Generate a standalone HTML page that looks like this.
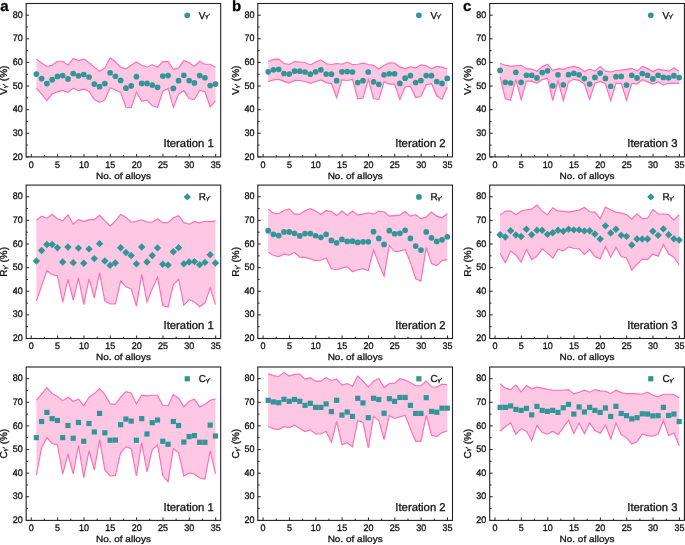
<!DOCTYPE html>
<html><head><meta charset="utf-8"><style>
html,body{margin:0;padding:0;background:#fff;}
text{stroke:#111;stroke-width:0.3px;text-rendering:geometricPrecision;}
body{width:685px;height:545px;overflow:hidden;}
svg{display:block;will-change:transform;filter:blur(0.35px);}
</style></head><body>
<svg width="685" height="545" viewBox="0 0 685 545" font-family='"Liberation Sans", sans-serif'>
<rect width="685" height="545" fill="#fff"/>
<polygon points="36.35,59.09 41.62,63.05 46.88,66.43 52.15,65.26 57.42,61.29 62.69,61.29 67.96,65.26 73.22,58.50 78.49,60.56 83.76,59.09 89.03,62.76 94.30,67.17 99.56,71.28 104.83,67.90 110.10,57.91 115.37,61.73 120.64,67.17 125.90,68.93 131.17,65.26 136.44,62.03 141.71,65.26 146.98,67.17 152.24,64.52 157.51,67.17 162.78,61.59 168.05,61.59 173.32,69.37 178.58,67.90 183.85,60.56 189.12,62.76 194.39,66.43 199.66,61.29 204.92,64.23 210.19,64.23 215.46,67.17 215.46,100.94 210.19,106.81 204.92,91.69 199.66,90.37 194.39,99.47 189.12,98.74 183.85,90.66 178.58,94.04 173.32,107.55 168.05,88.46 162.78,91.40 157.51,107.55 152.24,105.79 146.98,100.21 141.71,101.38 136.44,92.13 131.17,107.55 125.90,107.25 120.64,92.42 115.37,89.93 110.10,87.72 104.83,99.91 99.56,102.41 94.30,99.47 89.03,91.40 83.76,89.19 78.49,90.66 73.22,88.16 67.96,92.42 62.69,90.37 57.42,91.84 52.15,94.04 46.88,100.50 41.62,94.04 36.35,88.02" fill="#fec7e3"/>
<polyline points="36.35,59.09 41.62,63.05 46.88,66.43 52.15,65.26 57.42,61.29 62.69,61.29 67.96,65.26 73.22,58.50 78.49,60.56 83.76,59.09 89.03,62.76 94.30,67.17 99.56,71.28 104.83,67.90 110.10,57.91 115.37,61.73 120.64,67.17 125.90,68.93 131.17,65.26 136.44,62.03 141.71,65.26 146.98,67.17 152.24,64.52 157.51,67.17 162.78,61.59 168.05,61.59 173.32,69.37 178.58,67.90 183.85,60.56 189.12,62.76 194.39,66.43 199.66,61.29 204.92,64.23 210.19,64.23 215.46,67.17" fill="none" stroke="#ff6eb4" stroke-width="1.15"/>
<polyline points="36.35,88.02 41.62,94.04 46.88,100.50 52.15,94.04 57.42,91.84 62.69,90.37 67.96,92.42 73.22,88.16 78.49,90.66 83.76,89.19 89.03,91.40 94.30,99.47 99.56,102.41 104.83,99.91 110.10,87.72 115.37,89.93 120.64,92.42 125.90,107.25 131.17,107.55 136.44,92.13 141.71,101.38 146.98,100.21 152.24,105.79 157.51,107.55 162.78,91.40 168.05,88.46 173.32,107.55 178.58,94.04 183.85,90.66 189.12,98.74 194.39,99.47 199.66,90.37 204.92,91.69 210.19,106.81 215.46,100.94" fill="none" stroke="#ff6eb4" stroke-width="1.15"/>
<g fill="#319696">
<circle cx="36.35" cy="74.07" r="2.85"/>
<circle cx="41.62" cy="78.62" r="2.85"/>
<circle cx="46.88" cy="83.61" r="2.85"/>
<circle cx="52.15" cy="79.65" r="2.85"/>
<circle cx="57.42" cy="76.42" r="2.85"/>
<circle cx="62.69" cy="75.54" r="2.85"/>
<circle cx="67.96" cy="78.91" r="2.85"/>
<circle cx="73.22" cy="73.48" r="2.85"/>
<circle cx="78.49" cy="75.83" r="2.85"/>
<circle cx="83.76" cy="74.51" r="2.85"/>
<circle cx="89.03" cy="77.00" r="2.85"/>
<circle cx="94.30" cy="84.05" r="2.85"/>
<circle cx="99.56" cy="86.70" r="2.85"/>
<circle cx="104.83" cy="83.61" r="2.85"/>
<circle cx="110.10" cy="72.75" r="2.85"/>
<circle cx="115.37" cy="76.27" r="2.85"/>
<circle cx="120.64" cy="80.38" r="2.85"/>
<circle cx="125.90" cy="88.16" r="2.85"/>
<circle cx="131.17" cy="85.96" r="2.85"/>
<circle cx="136.44" cy="76.71" r="2.85"/>
<circle cx="141.71" cy="83.47" r="2.85"/>
<circle cx="146.98" cy="83.47" r="2.85"/>
<circle cx="152.24" cy="85.08" r="2.85"/>
<circle cx="157.51" cy="87.28" r="2.85"/>
<circle cx="162.78" cy="76.12" r="2.85"/>
<circle cx="168.05" cy="75.54" r="2.85"/>
<circle cx="173.32" cy="88.46" r="2.85"/>
<circle cx="178.58" cy="80.68" r="2.85"/>
<circle cx="183.85" cy="75.24" r="2.85"/>
<circle cx="189.12" cy="80.53" r="2.85"/>
<circle cx="194.39" cy="82.88" r="2.85"/>
<circle cx="199.66" cy="75.54" r="2.85"/>
<circle cx="204.92" cy="77.74" r="2.85"/>
<circle cx="210.19" cy="85.52" r="2.85"/>
<circle cx="215.46" cy="84.05" r="2.85"/>
</g>
<rect x="26.15" y="3.5" width="194.55" height="153.40" fill="none" stroke="#222" stroke-width="1.1"/>
<path d="M31.28 156.90v-3M57.62 156.90v-3M83.96 156.90v-3M110.30 156.90v-3M136.64 156.90v-3M162.98 156.90v-3M189.32 156.90v-3M215.66 156.90v-3M44.45 156.90v-1.8M70.79 156.90v-1.8M97.13 156.90v-1.8M123.47 156.90v-1.8M149.81 156.90v-1.8M176.15 156.90v-1.8M202.49 156.90v-1.8M26.15 156.90h3M26.15 133.28h3M26.15 109.66h3M26.15 86.04h3M26.15 62.42h3M26.15 38.80h3M26.15 15.18h3M26.15 145.09h1.8M26.15 121.47h1.8M26.15 97.85h1.8M26.15 74.23h1.8M26.15 50.61h1.8M26.15 26.99h1.8" stroke="#222" stroke-width="1" fill="none"/>
<g font-size="9" fill="#111" text-anchor="middle">
<text transform="translate(31.28,167.60) scale(1,1.06)">0</text>
<text transform="translate(57.62,167.60) scale(1,1.06)">5</text>
<text transform="translate(83.96,167.60) scale(1,1.06)">10</text>
<text transform="translate(110.30,167.60) scale(1,1.06)">15</text>
<text transform="translate(136.64,167.60) scale(1,1.06)">20</text>
<text transform="translate(162.98,167.60) scale(1,1.06)">25</text>
<text transform="translate(189.32,167.60) scale(1,1.06)">30</text>
<text transform="translate(215.66,167.60) scale(1,1.06)">35</text>
</g>
<g font-size="9" fill="#111" text-anchor="end">
<text transform="translate(22.75,159.50) scale(1,1.06)">20</text>
<text transform="translate(22.75,135.88) scale(1,1.06)">30</text>
<text transform="translate(22.75,112.26) scale(1,1.06)">40</text>
<text transform="translate(22.75,88.64) scale(1,1.06)">50</text>
<text transform="translate(22.75,65.02) scale(1,1.06)">60</text>
<text transform="translate(22.75,41.40) scale(1,1.06)">70</text>
<text transform="translate(22.75,17.78) scale(1,1.06)">80</text>
</g>
<text transform="translate(123.42,178.80) scale(1,0.9)" font-size="10" text-anchor="middle" fill="#111">No. of alloys</text>
<text transform="translate(7.35,80.20) rotate(-90)" font-size="10" text-anchor="middle" fill="#111">V<tspan font-size="5.6" dx="0.1" dy="-0.5">γ</tspan><tspan font-size="6" dx="0.2">′</tspan><tspan dy="0.5"> (%)</tspan></text>
<g fill="#319696"><circle cx="187.25" cy="15.30" r="2.85"/></g>
<text x="198.85" y="18.70" font-size="10" fill="#111">V<tspan font-size="5.6" dx="0.1" dy="-0.5">γ</tspan><tspan font-size="6" dx="0.2">′</tspan></text>
<text x="213.80" y="147.00" font-size="11.3" text-anchor="end" fill="#111">Iteration 1</text>
<text transform="translate(0.15,10.6)" font-size="15" font-weight="bold" fill="#000">a</text>
<polygon points="268.17,61.59 273.44,59.38 278.70,59.09 283.97,63.49 289.24,64.52 294.51,61.59 299.78,62.03 305.04,62.47 310.31,64.96 315.58,62.03 320.85,59.82 326.12,63.79 331.38,64.52 336.65,63.49 341.92,64.23 347.19,62.03 352.46,64.67 357.72,64.23 362.99,63.20 368.26,64.52 373.53,65.40 378.80,69.07 384.06,65.26 389.33,62.76 394.60,63.05 399.87,66.87 405.14,68.78 410.40,66.73 415.67,67.90 420.94,64.96 426.21,65.70 431.48,68.63 436.74,66.43 442.01,67.17 447.28,69.07 447.28,86.99 442.01,99.47 436.74,95.80 431.48,83.76 426.21,84.79 420.94,96.53 415.67,97.56 410.40,86.26 405.14,86.99 399.87,99.47 394.60,84.05 389.33,84.05 384.06,81.85 378.80,99.47 373.53,98.74 368.26,79.65 362.99,98.00 357.72,98.74 352.46,79.35 347.19,80.53 341.92,79.94 336.65,97.71 331.38,83.61 326.12,82.58 320.85,79.94 315.58,81.56 310.31,83.32 305.04,81.56 299.78,80.53 294.51,80.38 289.24,83.02 283.97,81.41 278.70,79.35 273.44,79.94 268.17,81.56" fill="#fec7e3"/>
<polyline points="268.17,61.59 273.44,59.38 278.70,59.09 283.97,63.49 289.24,64.52 294.51,61.59 299.78,62.03 305.04,62.47 310.31,64.96 315.58,62.03 320.85,59.82 326.12,63.79 331.38,64.52 336.65,63.49 341.92,64.23 347.19,62.03 352.46,64.67 357.72,64.23 362.99,63.20 368.26,64.52 373.53,65.40 378.80,69.07 384.06,65.26 389.33,62.76 394.60,63.05 399.87,66.87 405.14,68.78 410.40,66.73 415.67,67.90 420.94,64.96 426.21,65.70 431.48,68.63 436.74,66.43 442.01,67.17 447.28,69.07" fill="none" stroke="#ff6eb4" stroke-width="1.15"/>
<polyline points="268.17,81.56 273.44,79.94 278.70,79.35 283.97,81.41 289.24,83.02 294.51,80.38 299.78,80.53 305.04,81.56 310.31,83.32 315.58,81.56 320.85,79.94 326.12,82.58 331.38,83.61 336.65,97.71 341.92,79.94 347.19,80.53 352.46,79.35 357.72,98.74 362.99,98.00 368.26,79.65 373.53,98.74 378.80,99.47 384.06,81.85 389.33,84.05 394.60,84.05 399.87,99.47 405.14,86.99 410.40,86.26 415.67,97.56 420.94,96.53 426.21,84.79 431.48,83.76 436.74,95.80 442.01,99.47 447.28,86.99" fill="none" stroke="#ff6eb4" stroke-width="1.15"/>
<g fill="#319696">
<circle cx="268.17" cy="71.86" r="2.85"/>
<circle cx="273.44" cy="69.81" r="2.85"/>
<circle cx="278.70" cy="69.37" r="2.85"/>
<circle cx="283.97" cy="73.48" r="2.85"/>
<circle cx="289.24" cy="74.07" r="2.85"/>
<circle cx="294.51" cy="71.13" r="2.85"/>
<circle cx="299.78" cy="71.13" r="2.85"/>
<circle cx="305.04" cy="72.01" r="2.85"/>
<circle cx="310.31" cy="74.21" r="2.85"/>
<circle cx="315.58" cy="71.86" r="2.85"/>
<circle cx="320.85" cy="69.81" r="2.85"/>
<circle cx="326.12" cy="74.07" r="2.85"/>
<circle cx="331.38" cy="74.21" r="2.85"/>
<circle cx="336.65" cy="80.68" r="2.85"/>
<circle cx="341.92" cy="71.86" r="2.85"/>
<circle cx="347.19" cy="71.57" r="2.85"/>
<circle cx="352.46" cy="72.01" r="2.85"/>
<circle cx="357.72" cy="82.58" r="2.85"/>
<circle cx="362.99" cy="80.68" r="2.85"/>
<circle cx="368.26" cy="72.01" r="2.85"/>
<circle cx="373.53" cy="81.85" r="2.85"/>
<circle cx="378.80" cy="84.35" r="2.85"/>
<circle cx="384.06" cy="74.80" r="2.85"/>
<circle cx="389.33" cy="73.77" r="2.85"/>
<circle cx="394.60" cy="73.77" r="2.85"/>
<circle cx="399.87" cy="83.47" r="2.85"/>
<circle cx="405.14" cy="78.18" r="2.85"/>
<circle cx="410.40" cy="75.68" r="2.85"/>
<circle cx="415.67" cy="82.58" r="2.85"/>
<circle cx="420.94" cy="80.53" r="2.85"/>
<circle cx="426.21" cy="75.54" r="2.85"/>
<circle cx="431.48" cy="75.68" r="2.85"/>
<circle cx="436.74" cy="81.56" r="2.85"/>
<circle cx="442.01" cy="83.47" r="2.85"/>
<circle cx="447.28" cy="78.47" r="2.85"/>
</g>
<rect x="257.8" y="3.5" width="194.70" height="153.40" fill="none" stroke="#222" stroke-width="1.1"/>
<path d="M263.10 156.90v-3M289.44 156.90v-3M315.78 156.90v-3M342.12 156.90v-3M368.46 156.90v-3M394.80 156.90v-3M421.14 156.90v-3M447.48 156.90v-3M276.27 156.90v-1.8M302.61 156.90v-1.8M328.95 156.90v-1.8M355.29 156.90v-1.8M381.63 156.90v-1.8M407.97 156.90v-1.8M434.31 156.90v-1.8M257.80 156.90h3M257.80 133.28h3M257.80 109.66h3M257.80 86.04h3M257.80 62.42h3M257.80 38.80h3M257.80 15.18h3M257.80 145.09h1.8M257.80 121.47h1.8M257.80 97.85h1.8M257.80 74.23h1.8M257.80 50.61h1.8M257.80 26.99h1.8" stroke="#222" stroke-width="1" fill="none"/>
<g font-size="9" fill="#111" text-anchor="middle">
<text transform="translate(263.10,167.60) scale(1,1.06)">0</text>
<text transform="translate(289.44,167.60) scale(1,1.06)">5</text>
<text transform="translate(315.78,167.60) scale(1,1.06)">10</text>
<text transform="translate(342.12,167.60) scale(1,1.06)">15</text>
<text transform="translate(368.46,167.60) scale(1,1.06)">20</text>
<text transform="translate(394.80,167.60) scale(1,1.06)">25</text>
<text transform="translate(421.14,167.60) scale(1,1.06)">30</text>
<text transform="translate(447.48,167.60) scale(1,1.06)">35</text>
</g>
<g font-size="9" fill="#111" text-anchor="end">
<text transform="translate(254.40,159.50) scale(1,1.06)">20</text>
<text transform="translate(254.40,135.88) scale(1,1.06)">30</text>
<text transform="translate(254.40,112.26) scale(1,1.06)">40</text>
<text transform="translate(254.40,88.64) scale(1,1.06)">50</text>
<text transform="translate(254.40,65.02) scale(1,1.06)">60</text>
<text transform="translate(254.40,41.40) scale(1,1.06)">70</text>
<text transform="translate(254.40,17.78) scale(1,1.06)">80</text>
</g>
<text transform="translate(355.15,178.80) scale(1,0.9)" font-size="10" text-anchor="middle" fill="#111">No. of alloys</text>
<text transform="translate(239.00,80.20) rotate(-90)" font-size="10" text-anchor="middle" fill="#111">V<tspan font-size="5.6" dx="0.1" dy="-0.5">γ</tspan><tspan font-size="6" dx="0.2">′</tspan><tspan dy="0.5"> (%)</tspan></text>
<g fill="#319696"><circle cx="418.90" cy="15.30" r="2.85"/></g>
<text x="430.50" y="18.70" font-size="10" fill="#111">V<tspan font-size="5.6" dx="0.1" dy="-0.5">γ</tspan><tspan font-size="6" dx="0.2">′</tspan></text>
<text x="445.60" y="147.00" font-size="11.3" text-anchor="end" fill="#111">Iteration 2</text>
<text transform="translate(232.00,10.6)" font-size="15" font-weight="bold" fill="#000">b</text>
<polygon points="500.07,63.20 505.34,65.26 510.60,66.14 515.87,65.70 521.14,65.26 526.41,68.63 531.68,69.07 536.94,71.28 542.21,66.73 547.48,64.23 552.75,70.54 558.02,68.63 563.28,69.37 568.55,67.46 573.82,66.43 579.09,67.90 584.36,71.57 589.62,69.07 594.89,71.13 600.16,66.43 605.43,71.28 610.70,72.01 615.96,70.54 621.23,70.10 626.50,69.37 631.77,68.34 637.04,71.13 642.30,66.43 647.57,68.63 652.84,71.57 658.11,69.07 663.38,70.10 668.64,71.13 673.91,67.90 679.18,71.13 679.18,83.32 673.91,83.32 668.64,83.32 663.38,85.23 658.11,81.85 652.84,84.05 647.57,81.85 642.30,79.65 637.04,84.05 631.77,83.32 626.50,100.21 621.23,83.32 615.96,83.32 610.70,100.94 605.43,83.76 600.16,81.41 594.89,83.32 589.62,99.47 584.36,84.05 579.09,80.38 573.82,79.35 568.55,81.85 563.28,100.50 558.02,80.82 552.75,100.50 547.48,78.18 542.21,79.65 536.94,83.32 531.68,81.12 526.41,81.12 521.14,99.47 515.87,79.35 510.60,100.21 505.34,98.74 500.07,77.15" fill="#fec7e3"/>
<polyline points="500.07,63.20 505.34,65.26 510.60,66.14 515.87,65.70 521.14,65.26 526.41,68.63 531.68,69.07 536.94,71.28 542.21,66.73 547.48,64.23 552.75,70.54 558.02,68.63 563.28,69.37 568.55,67.46 573.82,66.43 579.09,67.90 584.36,71.57 589.62,69.07 594.89,71.13 600.16,66.43 605.43,71.28 610.70,72.01 615.96,70.54 621.23,70.10 626.50,69.37 631.77,68.34 637.04,71.13 642.30,66.43 647.57,68.63 652.84,71.57 658.11,69.07 663.38,70.10 668.64,71.13 673.91,67.90 679.18,71.13" fill="none" stroke="#ff6eb4" stroke-width="1.15"/>
<polyline points="500.07,77.15 505.34,98.74 510.60,100.21 515.87,79.35 521.14,99.47 526.41,81.12 531.68,81.12 536.94,83.32 542.21,79.65 547.48,78.18 552.75,100.50 558.02,80.82 563.28,100.50 568.55,81.85 573.82,79.35 579.09,80.38 584.36,84.05 589.62,99.47 594.89,83.32 600.16,81.41 605.43,83.76 610.70,100.94 615.96,83.32 621.23,83.32 626.50,100.21 631.77,83.32 637.04,84.05 642.30,79.65 647.57,81.85 652.84,84.05 658.11,81.85 663.38,85.23 668.64,83.32 673.91,83.32 679.18,83.32" fill="none" stroke="#ff6eb4" stroke-width="1.15"/>
<g fill="#319696">
<circle cx="500.07" cy="70.40" r="2.85"/>
<circle cx="505.34" cy="82.29" r="2.85"/>
<circle cx="510.60" cy="83.02" r="2.85"/>
<circle cx="515.87" cy="72.31" r="2.85"/>
<circle cx="521.14" cy="82.29" r="2.85"/>
<circle cx="526.41" cy="75.24" r="2.85"/>
<circle cx="531.68" cy="75.24" r="2.85"/>
<circle cx="536.94" cy="77.89" r="2.85"/>
<circle cx="542.21" cy="72.60" r="2.85"/>
<circle cx="547.48" cy="70.84" r="2.85"/>
<circle cx="552.75" cy="85.81" r="2.85"/>
<circle cx="558.02" cy="74.80" r="2.85"/>
<circle cx="563.28" cy="84.79" r="2.85"/>
<circle cx="568.55" cy="74.65" r="2.85"/>
<circle cx="573.82" cy="73.33" r="2.85"/>
<circle cx="579.09" cy="74.80" r="2.85"/>
<circle cx="584.36" cy="78.62" r="2.85"/>
<circle cx="589.62" cy="84.05" r="2.85"/>
<circle cx="594.89" cy="77.44" r="2.85"/>
<circle cx="600.16" cy="73.04" r="2.85"/>
<circle cx="605.43" cy="78.47" r="2.85"/>
<circle cx="610.70" cy="86.26" r="2.85"/>
<circle cx="615.96" cy="76.71" r="2.85"/>
<circle cx="621.23" cy="76.42" r="2.85"/>
<circle cx="626.50" cy="85.08" r="2.85"/>
<circle cx="631.77" cy="75.24" r="2.85"/>
<circle cx="637.04" cy="77.89" r="2.85"/>
<circle cx="642.30" cy="73.48" r="2.85"/>
<circle cx="647.57" cy="75.24" r="2.85"/>
<circle cx="652.84" cy="78.91" r="2.85"/>
<circle cx="658.11" cy="75.24" r="2.85"/>
<circle cx="663.38" cy="77.44" r="2.85"/>
<circle cx="668.64" cy="77.74" r="2.85"/>
<circle cx="673.91" cy="75.68" r="2.85"/>
<circle cx="679.18" cy="77.59" r="2.85"/>
</g>
<rect x="489.7" y="3.5" width="194.70" height="153.40" fill="none" stroke="#222" stroke-width="1.1"/>
<path d="M495.00 156.90v-3M521.34 156.90v-3M547.68 156.90v-3M574.02 156.90v-3M600.36 156.90v-3M626.70 156.90v-3M653.04 156.90v-3M679.38 156.90v-3M508.17 156.90v-1.8M534.51 156.90v-1.8M560.85 156.90v-1.8M587.19 156.90v-1.8M613.53 156.90v-1.8M639.87 156.90v-1.8M666.21 156.90v-1.8M489.70 156.90h3M489.70 133.28h3M489.70 109.66h3M489.70 86.04h3M489.70 62.42h3M489.70 38.80h3M489.70 15.18h3M489.70 145.09h1.8M489.70 121.47h1.8M489.70 97.85h1.8M489.70 74.23h1.8M489.70 50.61h1.8M489.70 26.99h1.8" stroke="#222" stroke-width="1" fill="none"/>
<g font-size="9" fill="#111" text-anchor="middle">
<text transform="translate(495.00,167.60) scale(1,1.06)">0</text>
<text transform="translate(521.34,167.60) scale(1,1.06)">5</text>
<text transform="translate(547.68,167.60) scale(1,1.06)">10</text>
<text transform="translate(574.02,167.60) scale(1,1.06)">15</text>
<text transform="translate(600.36,167.60) scale(1,1.06)">20</text>
<text transform="translate(626.70,167.60) scale(1,1.06)">25</text>
<text transform="translate(653.04,167.60) scale(1,1.06)">30</text>
<text transform="translate(679.38,167.60) scale(1,1.06)">35</text>
</g>
<g font-size="9" fill="#111" text-anchor="end">
<text transform="translate(486.30,159.50) scale(1,1.06)">20</text>
<text transform="translate(486.30,135.88) scale(1,1.06)">30</text>
<text transform="translate(486.30,112.26) scale(1,1.06)">40</text>
<text transform="translate(486.30,88.64) scale(1,1.06)">50</text>
<text transform="translate(486.30,65.02) scale(1,1.06)">60</text>
<text transform="translate(486.30,41.40) scale(1,1.06)">70</text>
<text transform="translate(486.30,17.78) scale(1,1.06)">80</text>
</g>
<text transform="translate(587.05,178.80) scale(1,0.9)" font-size="10" text-anchor="middle" fill="#111">No. of alloys</text>
<text transform="translate(470.90,80.20) rotate(-90)" font-size="10" text-anchor="middle" fill="#111">V<tspan font-size="5.6" dx="0.1" dy="-0.5">γ</tspan><tspan font-size="6" dx="0.2">′</tspan><tspan dy="0.5"> (%)</tspan></text>
<g fill="#319696"><circle cx="650.80" cy="15.30" r="2.85"/></g>
<text x="662.40" y="18.70" font-size="10" fill="#111">V<tspan font-size="5.6" dx="0.1" dy="-0.5">γ</tspan><tspan font-size="6" dx="0.2">′</tspan></text>
<text x="677.50" y="147.00" font-size="11.3" text-anchor="end" fill="#111">Iteration 3</text>
<text transform="translate(463.10,10.6)" font-size="15" font-weight="bold" fill="#000">c</text>
<polygon points="36.35,220.20 41.62,216.16 46.88,218.18 52.15,214.55 57.42,218.79 62.69,220.81 67.96,214.75 73.22,224.24 78.49,219.39 83.76,221.62 89.03,219.60 94.30,219.60 99.56,215.35 104.83,220.61 110.10,225.86 115.37,220.81 120.64,214.55 125.90,217.17 131.17,222.22 136.44,221.41 141.71,219.80 146.98,221.82 152.24,222.22 157.51,218.99 162.78,222.63 168.05,222.63 173.32,217.78 178.58,215.76 183.85,222.63 189.12,224.24 194.39,221.62 199.66,222.83 204.92,221.21 210.19,221.62 215.46,220.81 215.46,304.65 210.19,287.88 204.92,303.03 199.66,306.67 194.39,302.02 189.12,299.60 183.85,305.05 178.58,279.39 173.32,284.85 168.05,307.07 162.78,305.45 157.51,277.17 152.24,288.89 146.98,302.02 141.71,274.34 136.44,306.06 131.17,288.89 125.90,286.87 120.64,280.81 115.37,304.04 110.10,304.04 104.83,301.01 99.56,272.73 94.30,297.98 89.03,278.79 83.76,304.65 78.49,277.78 73.22,300.00 67.96,279.39 62.69,302.02 57.42,275.76 52.15,274.75 46.88,270.71 41.62,285.86 36.35,301.01" fill="#fec7e3"/>
<polyline points="36.35,220.20 41.62,216.16 46.88,218.18 52.15,214.55 57.42,218.79 62.69,220.81 67.96,214.75 73.22,224.24 78.49,219.39 83.76,221.62 89.03,219.60 94.30,219.60 99.56,215.35 104.83,220.61 110.10,225.86 115.37,220.81 120.64,214.55 125.90,217.17 131.17,222.22 136.44,221.41 141.71,219.80 146.98,221.82 152.24,222.22 157.51,218.99 162.78,222.63 168.05,222.63 173.32,217.78 178.58,215.76 183.85,222.63 189.12,224.24 194.39,221.62 199.66,222.83 204.92,221.21 210.19,221.62 215.46,220.81" fill="none" stroke="#ff6eb4" stroke-width="1.15"/>
<polyline points="36.35,301.01 41.62,285.86 46.88,270.71 52.15,274.75 57.42,275.76 62.69,302.02 67.96,279.39 73.22,300.00 78.49,277.78 83.76,304.65 89.03,278.79 94.30,297.98 99.56,272.73 104.83,301.01 110.10,304.04 115.37,304.04 120.64,280.81 125.90,286.87 131.17,288.89 136.44,306.06 141.71,274.34 146.98,302.02 152.24,288.89 157.51,277.17 162.78,305.45 168.05,307.07 173.32,284.85 178.58,279.39 183.85,305.05 189.12,299.60 194.39,302.02 199.66,306.67 204.92,303.03 210.19,287.88 215.46,304.65" fill="none" stroke="#ff6eb4" stroke-width="1.15"/>
<g fill="#319696">
<path d="M36.35 257.31L40.05 261.01L36.35 264.71L32.65 261.01Z"/>
<path d="M41.62 246.81L45.32 250.51L41.62 254.21L37.92 250.51Z"/>
<path d="M46.88 240.74L50.58 244.44L46.88 248.14L43.18 244.44Z"/>
<path d="M52.15 240.74L55.85 244.44L52.15 248.14L48.45 244.44Z"/>
<path d="M57.42 243.98L61.12 247.68L57.42 251.38L53.72 247.68Z"/>
<path d="M62.69 258.32L66.39 262.02L62.69 265.72L58.99 262.02Z"/>
<path d="M67.96 243.37L71.66 247.07L67.96 250.77L64.26 247.07Z"/>
<path d="M73.22 258.93L76.92 262.63L73.22 266.33L69.52 262.63Z"/>
<path d="M78.49 244.38L82.19 248.08L78.49 251.78L74.79 248.08Z"/>
<path d="M83.76 259.53L87.46 263.23L83.76 266.93L80.06 263.23Z"/>
<path d="M89.03 245.19L92.73 248.89L89.03 252.59L85.33 248.89Z"/>
<path d="M94.30 254.89L98.00 258.59L94.30 262.29L90.60 258.59Z"/>
<path d="M99.56 239.94L103.26 243.64L99.56 247.34L95.86 243.64Z"/>
<path d="M104.83 257.31L108.53 261.01L104.83 264.71L101.13 261.01Z"/>
<path d="M110.10 261.55L113.80 265.25L110.10 268.95L106.40 265.25Z"/>
<path d="M115.37 259.33L119.07 263.03L115.37 266.73L111.67 263.03Z"/>
<path d="M120.64 243.98L124.34 247.68L120.64 251.38L116.94 247.68Z"/>
<path d="M125.90 248.83L129.60 252.53L125.90 256.23L122.20 252.53Z"/>
<path d="M131.17 251.86L134.87 255.56L131.17 259.26L127.47 255.56Z"/>
<path d="M136.44 260.14L140.14 263.84L136.44 267.54L132.74 263.84Z"/>
<path d="M141.71 243.37L145.41 247.07L141.71 250.77L138.01 247.07Z"/>
<path d="M146.98 258.32L150.68 262.02L146.98 265.72L143.28 262.02Z"/>
<path d="M152.24 251.86L155.94 255.56L152.24 259.26L148.54 255.56Z"/>
<path d="M157.51 244.18L161.21 247.88L157.51 251.58L153.81 247.88Z"/>
<path d="M162.78 260.54L166.48 264.24L162.78 267.94L159.08 264.24Z"/>
<path d="M168.05 261.35L171.75 265.05L168.05 268.75L164.35 265.05Z"/>
<path d="M173.32 248.02L177.02 251.72L173.32 255.42L169.62 251.72Z"/>
<path d="M178.58 243.98L182.28 247.68L178.58 251.38L174.88 247.68Z"/>
<path d="M183.85 260.14L187.55 263.84L183.85 267.54L180.15 263.84Z"/>
<path d="M189.12 258.32L192.82 262.02L189.12 265.72L185.42 262.02Z"/>
<path d="M194.39 257.92L198.09 261.62L194.39 265.32L190.69 261.62Z"/>
<path d="M199.66 260.95L203.36 264.65L199.66 268.35L195.96 264.65Z"/>
<path d="M204.92 258.72L208.62 262.42L204.92 266.12L201.22 262.42Z"/>
<path d="M210.19 251.05L213.89 254.75L210.19 258.45L206.49 254.75Z"/>
<path d="M215.46 259.33L219.16 263.03L215.46 266.73L211.76 263.03Z"/>
</g>
<rect x="26.15" y="185.1" width="194.55" height="153.40" fill="none" stroke="#222" stroke-width="1.1"/>
<path d="M31.28 338.50v-3M57.62 338.50v-3M83.96 338.50v-3M110.30 338.50v-3M136.64 338.50v-3M162.98 338.50v-3M189.32 338.50v-3M215.66 338.50v-3M44.45 338.50v-1.8M70.79 338.50v-1.8M97.13 338.50v-1.8M123.47 338.50v-1.8M149.81 338.50v-1.8M176.15 338.50v-1.8M202.49 338.50v-1.8M26.15 338.50h3M26.15 314.88h3M26.15 291.26h3M26.15 267.64h3M26.15 244.02h3M26.15 220.40h3M26.15 196.78h3M26.15 326.69h1.8M26.15 303.07h1.8M26.15 279.45h1.8M26.15 255.83h1.8M26.15 232.21h1.8M26.15 208.59h1.8" stroke="#222" stroke-width="1" fill="none"/>
<g font-size="9" fill="#111" text-anchor="middle">
<text transform="translate(31.28,349.20) scale(1,1.06)">0</text>
<text transform="translate(57.62,349.20) scale(1,1.06)">5</text>
<text transform="translate(83.96,349.20) scale(1,1.06)">10</text>
<text transform="translate(110.30,349.20) scale(1,1.06)">15</text>
<text transform="translate(136.64,349.20) scale(1,1.06)">20</text>
<text transform="translate(162.98,349.20) scale(1,1.06)">25</text>
<text transform="translate(189.32,349.20) scale(1,1.06)">30</text>
<text transform="translate(215.66,349.20) scale(1,1.06)">35</text>
</g>
<g font-size="9" fill="#111" text-anchor="end">
<text transform="translate(22.75,341.10) scale(1,1.06)">20</text>
<text transform="translate(22.75,317.48) scale(1,1.06)">30</text>
<text transform="translate(22.75,293.86) scale(1,1.06)">40</text>
<text transform="translate(22.75,270.24) scale(1,1.06)">50</text>
<text transform="translate(22.75,246.62) scale(1,1.06)">60</text>
<text transform="translate(22.75,223.00) scale(1,1.06)">70</text>
<text transform="translate(22.75,199.38) scale(1,1.06)">80</text>
</g>
<text transform="translate(123.42,360.40) scale(1,0.9)" font-size="10" text-anchor="middle" fill="#111">No. of alloys</text>
<text transform="translate(7.35,261.80) rotate(-90)" font-size="10" text-anchor="middle" fill="#111">R<tspan font-size="5.6" dx="0.1" dy="-0.5">γ</tspan><tspan font-size="6" dx="0.2">′</tspan><tspan dy="0.5"> (%)</tspan></text>
<g fill="#319696"><path d="M187.25 193.20L190.95 196.90L187.25 200.60L183.55 196.90Z"/></g>
<text x="198.85" y="200.30" font-size="10" fill="#111">R<tspan font-size="5.6" dx="0.1" dy="-0.5">γ</tspan><tspan font-size="6" dx="0.2">′</tspan></text>
<text x="213.80" y="328.60" font-size="11.3" text-anchor="end" fill="#111">Iteration 1</text>
<polygon points="268.17,209.09 273.44,213.13 278.70,213.74 283.97,210.51 289.24,208.89 294.51,214.14 299.78,214.14 305.04,210.71 310.31,208.69 315.58,211.11 320.85,214.55 326.12,210.71 331.38,211.52 336.65,215.56 341.92,211.11 347.19,215.56 352.46,211.11 357.72,215.15 362.99,214.14 368.26,212.73 373.53,214.14 378.80,211.11 384.06,211.72 389.33,216.16 394.60,215.56 399.87,215.15 405.14,211.52 410.40,216.16 415.67,214.55 420.94,218.59 426.21,217.17 431.48,212.12 436.74,216.16 442.01,217.78 447.28,213.74 447.28,259.60 442.01,260.61 436.74,265.66 431.48,263.64 426.21,247.47 420.94,281.21 415.67,278.79 410.40,262.63 405.14,249.49 399.87,251.11 394.60,251.52 389.33,245.45 384.06,276.16 378.80,263.64 373.53,250.10 368.26,270.71 362.99,268.69 357.72,269.70 352.46,271.72 347.19,266.67 341.92,268.08 336.65,269.70 331.38,268.69 326.12,257.98 320.85,260.20 315.58,260.61 310.31,258.99 305.04,257.37 299.78,257.17 294.51,252.53 289.24,255.15 283.97,254.14 278.70,256.57 273.44,255.56 268.17,252.12" fill="#fec7e3"/>
<polyline points="268.17,209.09 273.44,213.13 278.70,213.74 283.97,210.51 289.24,208.89 294.51,214.14 299.78,214.14 305.04,210.71 310.31,208.69 315.58,211.11 320.85,214.55 326.12,210.71 331.38,211.52 336.65,215.56 341.92,211.11 347.19,215.56 352.46,211.11 357.72,215.15 362.99,214.14 368.26,212.73 373.53,214.14 378.80,211.11 384.06,211.72 389.33,216.16 394.60,215.56 399.87,215.15 405.14,211.52 410.40,216.16 415.67,214.55 420.94,218.59 426.21,217.17 431.48,212.12 436.74,216.16 442.01,217.78 447.28,213.74" fill="none" stroke="#ff6eb4" stroke-width="1.15"/>
<polyline points="268.17,252.12 273.44,255.56 278.70,256.57 283.97,254.14 289.24,255.15 294.51,252.53 299.78,257.17 305.04,257.37 310.31,258.99 315.58,260.61 320.85,260.20 326.12,257.98 331.38,268.69 336.65,269.70 341.92,268.08 347.19,266.67 352.46,271.72 357.72,269.70 362.99,268.69 368.26,270.71 373.53,250.10 378.80,263.64 384.06,276.16 389.33,245.45 394.60,251.52 399.87,251.11 405.14,249.49 410.40,262.63 415.67,278.79 420.94,281.21 426.21,247.47 431.48,263.64 436.74,265.66 442.01,260.61 447.28,259.60" fill="none" stroke="#ff6eb4" stroke-width="1.15"/>
<g fill="#319696">
<circle cx="268.17" cy="230.71" r="2.85"/>
<circle cx="273.44" cy="234.34" r="2.85"/>
<circle cx="278.70" cy="235.56" r="2.85"/>
<circle cx="283.97" cy="231.92" r="2.85"/>
<circle cx="289.24" cy="231.92" r="2.85"/>
<circle cx="294.51" cy="233.33" r="2.85"/>
<circle cx="299.78" cy="235.96" r="2.85"/>
<circle cx="305.04" cy="233.54" r="2.85"/>
<circle cx="310.31" cy="233.54" r="2.85"/>
<circle cx="315.58" cy="235.76" r="2.85"/>
<circle cx="320.85" cy="237.37" r="2.85"/>
<circle cx="326.12" cy="234.34" r="2.85"/>
<circle cx="331.38" cy="240.40" r="2.85"/>
<circle cx="336.65" cy="242.83" r="2.85"/>
<circle cx="341.92" cy="239.39" r="2.85"/>
<circle cx="347.19" cy="241.41" r="2.85"/>
<circle cx="352.46" cy="241.21" r="2.85"/>
<circle cx="357.72" cy="242.42" r="2.85"/>
<circle cx="362.99" cy="241.82" r="2.85"/>
<circle cx="368.26" cy="241.82" r="2.85"/>
<circle cx="373.53" cy="231.72" r="2.85"/>
<circle cx="378.80" cy="238.38" r="2.85"/>
<circle cx="384.06" cy="244.44" r="2.85"/>
<circle cx="389.33" cy="230.71" r="2.85"/>
<circle cx="394.60" cy="233.74" r="2.85"/>
<circle cx="399.87" cy="233.33" r="2.85"/>
<circle cx="405.14" cy="230.30" r="2.85"/>
<circle cx="410.40" cy="238.38" r="2.85"/>
<circle cx="415.67" cy="246.06" r="2.85"/>
<circle cx="420.94" cy="250.10" r="2.85"/>
<circle cx="426.21" cy="231.92" r="2.85"/>
<circle cx="431.48" cy="237.78" r="2.85"/>
<circle cx="436.74" cy="241.41" r="2.85"/>
<circle cx="442.01" cy="239.80" r="2.85"/>
<circle cx="447.28" cy="236.77" r="2.85"/>
</g>
<rect x="257.8" y="185.1" width="194.70" height="153.40" fill="none" stroke="#222" stroke-width="1.1"/>
<path d="M263.10 338.50v-3M289.44 338.50v-3M315.78 338.50v-3M342.12 338.50v-3M368.46 338.50v-3M394.80 338.50v-3M421.14 338.50v-3M447.48 338.50v-3M276.27 338.50v-1.8M302.61 338.50v-1.8M328.95 338.50v-1.8M355.29 338.50v-1.8M381.63 338.50v-1.8M407.97 338.50v-1.8M434.31 338.50v-1.8M257.80 338.50h3M257.80 314.88h3M257.80 291.26h3M257.80 267.64h3M257.80 244.02h3M257.80 220.40h3M257.80 196.78h3M257.80 326.69h1.8M257.80 303.07h1.8M257.80 279.45h1.8M257.80 255.83h1.8M257.80 232.21h1.8M257.80 208.59h1.8" stroke="#222" stroke-width="1" fill="none"/>
<g font-size="9" fill="#111" text-anchor="middle">
<text transform="translate(263.10,349.20) scale(1,1.06)">0</text>
<text transform="translate(289.44,349.20) scale(1,1.06)">5</text>
<text transform="translate(315.78,349.20) scale(1,1.06)">10</text>
<text transform="translate(342.12,349.20) scale(1,1.06)">15</text>
<text transform="translate(368.46,349.20) scale(1,1.06)">20</text>
<text transform="translate(394.80,349.20) scale(1,1.06)">25</text>
<text transform="translate(421.14,349.20) scale(1,1.06)">30</text>
<text transform="translate(447.48,349.20) scale(1,1.06)">35</text>
</g>
<g font-size="9" fill="#111" text-anchor="end">
<text transform="translate(254.40,341.10) scale(1,1.06)">20</text>
<text transform="translate(254.40,317.48) scale(1,1.06)">30</text>
<text transform="translate(254.40,293.86) scale(1,1.06)">40</text>
<text transform="translate(254.40,270.24) scale(1,1.06)">50</text>
<text transform="translate(254.40,246.62) scale(1,1.06)">60</text>
<text transform="translate(254.40,223.00) scale(1,1.06)">70</text>
<text transform="translate(254.40,199.38) scale(1,1.06)">80</text>
</g>
<text transform="translate(355.15,360.40) scale(1,0.9)" font-size="10" text-anchor="middle" fill="#111">No. of alloys</text>
<text transform="translate(239.00,261.80) rotate(-90)" font-size="10" text-anchor="middle" fill="#111">R<tspan font-size="5.6" dx="0.1" dy="-0.5">γ</tspan><tspan font-size="6" dx="0.2">′</tspan><tspan dy="0.5"> (%)</tspan></text>
<g fill="#319696"><circle cx="418.90" cy="196.90" r="2.85"/></g>
<text x="430.50" y="200.30" font-size="10" fill="#111">R<tspan font-size="5.6" dx="0.1" dy="-0.5">γ</tspan><tspan font-size="6" dx="0.2">′</tspan></text>
<text x="445.60" y="328.60" font-size="11.3" text-anchor="end" fill="#111">Iteration 2</text>
<polygon points="500.07,215.15 505.34,211.11 510.60,211.11 515.87,214.75 521.14,211.11 526.41,209.70 531.68,209.09 536.94,205.05 542.21,211.11 547.48,214.75 552.75,207.68 558.02,211.11 563.28,211.11 568.55,212.12 573.82,211.11 579.09,210.10 584.36,207.47 589.62,211.72 594.89,212.12 600.16,218.59 605.43,207.07 610.70,210.10 615.96,212.12 621.23,213.13 626.50,214.55 631.77,219.19 637.04,213.74 642.30,218.59 647.57,218.18 652.84,209.49 658.11,213.74 663.38,214.14 668.64,214.55 673.91,220.20 679.18,214.75 679.18,265.05 673.91,257.17 668.64,254.14 663.38,244.44 658.11,256.16 652.84,254.14 647.57,259.60 642.30,259.19 637.04,264.24 631.77,270.30 626.50,257.98 621.23,256.57 615.96,247.47 610.70,256.97 605.43,246.46 600.16,258.99 594.89,256.57 589.62,249.49 584.36,254.55 579.09,248.89 573.82,248.48 568.55,246.87 563.28,250.91 558.02,249.09 552.75,258.18 547.48,253.13 542.21,248.89 536.94,256.16 531.68,259.60 526.41,249.49 521.14,262.02 515.87,254.95 510.60,251.11 505.34,262.63 500.07,253.54" fill="#fec7e3"/>
<polyline points="500.07,215.15 505.34,211.11 510.60,211.11 515.87,214.75 521.14,211.11 526.41,209.70 531.68,209.09 536.94,205.05 542.21,211.11 547.48,214.75 552.75,207.68 558.02,211.11 563.28,211.11 568.55,212.12 573.82,211.11 579.09,210.10 584.36,207.47 589.62,211.72 594.89,212.12 600.16,218.59 605.43,207.07 610.70,210.10 615.96,212.12 621.23,213.13 626.50,214.55 631.77,219.19 637.04,213.74 642.30,218.59 647.57,218.18 652.84,209.49 658.11,213.74 663.38,214.14 668.64,214.55 673.91,220.20 679.18,214.75" fill="none" stroke="#ff6eb4" stroke-width="1.15"/>
<polyline points="500.07,253.54 505.34,262.63 510.60,251.11 515.87,254.95 521.14,262.02 526.41,249.49 531.68,259.60 536.94,256.16 542.21,248.89 547.48,253.13 552.75,258.18 558.02,249.09 563.28,250.91 568.55,246.87 573.82,248.48 579.09,248.89 584.36,254.55 589.62,249.49 594.89,256.57 600.16,258.99 605.43,246.46 610.70,256.97 615.96,247.47 621.23,256.57 626.50,257.98 631.77,270.30 637.04,264.24 642.30,259.19 647.57,259.60 652.84,254.14 658.11,256.16 663.38,244.44 668.64,254.14 673.91,257.17 679.18,265.05" fill="none" stroke="#ff6eb4" stroke-width="1.15"/>
<g fill="#319696">
<path d="M500.07 231.05L503.77 234.75L500.07 238.45L496.37 234.75Z"/>
<path d="M505.34 233.27L509.04 236.97L505.34 240.67L501.64 236.97Z"/>
<path d="M510.60 227.01L514.30 230.71L510.60 234.41L506.90 230.71Z"/>
<path d="M515.87 231.25L519.57 234.95L515.87 238.65L512.17 234.95Z"/>
<path d="M521.14 232.87L524.84 236.57L521.14 240.27L517.44 236.57Z"/>
<path d="M526.41 225.59L530.11 229.29L526.41 232.99L522.71 229.29Z"/>
<path d="M531.68 231.05L535.38 234.75L531.68 238.45L527.98 234.75Z"/>
<path d="M536.94 226.60L540.64 230.30L536.94 234.00L533.24 230.30Z"/>
<path d="M542.21 226.60L545.91 230.30L542.21 234.00L538.51 230.30Z"/>
<path d="M547.48 230.64L551.18 234.34L547.48 238.04L543.78 234.34Z"/>
<path d="M552.75 229.03L556.45 232.73L552.75 236.43L549.05 232.73Z"/>
<path d="M558.02 226.60L561.72 230.30L558.02 234.00L554.32 230.30Z"/>
<path d="M563.28 227.61L566.98 231.31L563.28 235.01L559.58 231.31Z"/>
<path d="M568.55 225.59L572.25 229.29L568.55 232.99L564.85 229.29Z"/>
<path d="M573.82 226.20L577.52 229.90L573.82 233.60L570.12 229.90Z"/>
<path d="M579.09 226.20L582.79 229.90L579.09 233.60L575.39 229.90Z"/>
<path d="M584.36 227.21L588.06 230.91L584.36 234.61L580.66 230.91Z"/>
<path d="M589.62 227.01L593.32 230.71L589.62 234.41L585.92 230.71Z"/>
<path d="M594.89 230.24L598.59 233.94L594.89 237.64L591.19 233.94Z"/>
<path d="M600.16 235.29L603.86 238.99L600.16 242.69L596.46 238.99Z"/>
<path d="M605.43 222.16L609.13 225.86L605.43 229.56L601.73 225.86Z"/>
<path d="M610.70 229.23L614.40 232.93L610.70 236.63L607.00 232.93Z"/>
<path d="M615.96 225.59L619.66 229.29L615.96 232.99L612.26 229.29Z"/>
<path d="M621.23 231.65L624.93 235.35L621.23 239.05L617.53 235.35Z"/>
<path d="M626.50 232.66L630.20 236.36L626.50 240.06L622.80 236.36Z"/>
<path d="M631.77 241.35L635.47 245.05L631.77 248.75L628.07 245.05Z"/>
<path d="M637.04 235.29L640.74 238.99L637.04 242.69L633.34 238.99Z"/>
<path d="M642.30 235.29L646.00 238.99L642.30 242.69L638.60 238.99Z"/>
<path d="M647.57 235.29L651.27 238.99L647.57 242.69L643.87 238.99Z"/>
<path d="M652.84 227.61L656.54 231.31L652.84 235.01L649.14 231.31Z"/>
<path d="M658.11 231.65L661.81 235.35L658.11 239.05L654.41 235.35Z"/>
<path d="M663.38 225.19L667.08 228.89L663.38 232.59L659.68 228.89Z"/>
<path d="M668.64 231.05L672.34 234.75L668.64 238.45L664.94 234.75Z"/>
<path d="M673.91 235.09L677.61 238.79L673.91 242.49L670.21 238.79Z"/>
<path d="M679.18 236.30L682.88 240.00L679.18 243.70L675.48 240.00Z"/>
</g>
<rect x="489.7" y="185.1" width="194.70" height="153.40" fill="none" stroke="#222" stroke-width="1.1"/>
<path d="M495.00 338.50v-3M521.34 338.50v-3M547.68 338.50v-3M574.02 338.50v-3M600.36 338.50v-3M626.70 338.50v-3M653.04 338.50v-3M679.38 338.50v-3M508.17 338.50v-1.8M534.51 338.50v-1.8M560.85 338.50v-1.8M587.19 338.50v-1.8M613.53 338.50v-1.8M639.87 338.50v-1.8M666.21 338.50v-1.8M489.70 338.50h3M489.70 314.88h3M489.70 291.26h3M489.70 267.64h3M489.70 244.02h3M489.70 220.40h3M489.70 196.78h3M489.70 326.69h1.8M489.70 303.07h1.8M489.70 279.45h1.8M489.70 255.83h1.8M489.70 232.21h1.8M489.70 208.59h1.8" stroke="#222" stroke-width="1" fill="none"/>
<g font-size="9" fill="#111" text-anchor="middle">
<text transform="translate(495.00,349.20) scale(1,1.06)">0</text>
<text transform="translate(521.34,349.20) scale(1,1.06)">5</text>
<text transform="translate(547.68,349.20) scale(1,1.06)">10</text>
<text transform="translate(574.02,349.20) scale(1,1.06)">15</text>
<text transform="translate(600.36,349.20) scale(1,1.06)">20</text>
<text transform="translate(626.70,349.20) scale(1,1.06)">25</text>
<text transform="translate(653.04,349.20) scale(1,1.06)">30</text>
<text transform="translate(679.38,349.20) scale(1,1.06)">35</text>
</g>
<g font-size="9" fill="#111" text-anchor="end">
<text transform="translate(486.30,341.10) scale(1,1.06)">20</text>
<text transform="translate(486.30,317.48) scale(1,1.06)">30</text>
<text transform="translate(486.30,293.86) scale(1,1.06)">40</text>
<text transform="translate(486.30,270.24) scale(1,1.06)">50</text>
<text transform="translate(486.30,246.62) scale(1,1.06)">60</text>
<text transform="translate(486.30,223.00) scale(1,1.06)">70</text>
<text transform="translate(486.30,199.38) scale(1,1.06)">80</text>
</g>
<text transform="translate(587.05,360.40) scale(1,0.9)" font-size="10" text-anchor="middle" fill="#111">No. of alloys</text>
<text transform="translate(470.90,261.80) rotate(-90)" font-size="10" text-anchor="middle" fill="#111">R<tspan font-size="5.6" dx="0.1" dy="-0.5">γ</tspan><tspan font-size="6" dx="0.2">′</tspan><tspan dy="0.5"> (%)</tspan></text>
<g fill="#319696"><path d="M650.80 193.20L654.50 196.90L650.80 200.60L647.10 196.90Z"/></g>
<text x="662.40" y="200.30" font-size="10" fill="#111">R<tspan font-size="5.6" dx="0.1" dy="-0.5">γ</tspan><tspan font-size="6" dx="0.2">′</tspan></text>
<text x="677.50" y="328.60" font-size="11.3" text-anchor="end" fill="#111">Iteration 3</text>
<polygon points="36.35,400.25 41.62,394.19 46.88,387.53 52.15,393.59 57.42,396.41 62.69,400.66 67.96,397.22 73.22,401.26 78.49,399.24 83.76,405.71 89.03,397.22 94.30,393.59 99.56,388.54 104.83,394.60 110.10,403.89 115.37,404.29 120.64,397.22 125.90,391.57 131.17,392.98 136.44,403.89 141.71,395.20 146.98,395.81 152.24,395.20 157.51,395.20 162.78,405.30 168.05,405.71 173.32,394.60 178.58,398.23 183.85,406.72 189.12,401.26 194.39,399.24 199.66,406.92 204.92,404.29 210.19,400.25 215.46,398.84 215.46,473.99 210.19,450.76 204.92,479.04 199.66,478.03 194.39,473.99 189.12,472.98 183.85,476.01 178.58,452.78 173.32,448.74 168.05,481.67 162.78,475.61 157.51,444.70 152.24,449.75 146.98,471.97 141.71,442.68 136.44,476.01 131.17,448.74 125.90,446.72 120.64,452.78 115.37,475.40 110.10,476.01 104.83,469.95 99.56,439.65 94.30,469.95 89.03,450.76 83.76,477.63 78.49,445.71 73.22,473.99 67.96,454.39 62.69,473.99 57.42,444.70 52.15,443.69 46.88,437.63 41.62,447.73 36.35,475.00" fill="#fec7e3"/>
<polyline points="36.35,400.25 41.62,394.19 46.88,387.53 52.15,393.59 57.42,396.41 62.69,400.66 67.96,397.22 73.22,401.26 78.49,399.24 83.76,405.71 89.03,397.22 94.30,393.59 99.56,388.54 104.83,394.60 110.10,403.89 115.37,404.29 120.64,397.22 125.90,391.57 131.17,392.98 136.44,403.89 141.71,395.20 146.98,395.81 152.24,395.20 157.51,395.20 162.78,405.30 168.05,405.71 173.32,394.60 178.58,398.23 183.85,406.72 189.12,401.26 194.39,399.24 199.66,406.92 204.92,404.29 210.19,400.25 215.46,398.84" fill="none" stroke="#ff6eb4" stroke-width="1.15"/>
<polyline points="36.35,475.00 41.62,447.73 46.88,437.63 52.15,443.69 57.42,444.70 62.69,473.99 67.96,454.39 73.22,473.99 78.49,445.71 83.76,477.63 89.03,450.76 94.30,469.95 99.56,439.65 104.83,469.95 110.10,476.01 115.37,475.40 120.64,452.78 125.90,446.72 131.17,448.74 136.44,476.01 141.71,442.68 146.98,471.97 152.24,449.75 157.51,444.70 162.78,475.61 168.05,481.67 173.32,448.74 178.58,452.78 183.85,476.01 189.12,472.98 194.39,473.99 199.66,478.03 204.92,479.04 210.19,450.76 215.46,473.99" fill="none" stroke="#ff6eb4" stroke-width="1.15"/>
<g fill="#319696">
<rect x="33.75" y="435.03" width="5.2" height="5.2"/>
<rect x="39.02" y="418.86" width="5.2" height="5.2"/>
<rect x="44.28" y="409.77" width="5.2" height="5.2"/>
<rect x="49.55" y="416.04" width="5.2" height="5.2"/>
<rect x="54.82" y="417.85" width="5.2" height="5.2"/>
<rect x="60.09" y="435.03" width="5.2" height="5.2"/>
<rect x="65.36" y="422.91" width="5.2" height="5.2"/>
<rect x="70.62" y="435.63" width="5.2" height="5.2"/>
<rect x="75.89" y="419.87" width="5.2" height="5.2"/>
<rect x="81.16" y="438.66" width="5.2" height="5.2"/>
<rect x="86.43" y="420.88" width="5.2" height="5.2"/>
<rect x="91.70" y="429.37" width="5.2" height="5.2"/>
<rect x="96.96" y="410.78" width="5.2" height="5.2"/>
<rect x="102.23" y="430.18" width="5.2" height="5.2"/>
<rect x="107.50" y="437.65" width="5.2" height="5.2"/>
<rect x="112.77" y="437.45" width="5.2" height="5.2"/>
<rect x="118.04" y="422.10" width="5.2" height="5.2"/>
<rect x="123.30" y="416.44" width="5.2" height="5.2"/>
<rect x="128.57" y="418.46" width="5.2" height="5.2"/>
<rect x="133.84" y="437.65" width="5.2" height="5.2"/>
<rect x="139.11" y="416.04" width="5.2" height="5.2"/>
<rect x="144.38" y="431.39" width="5.2" height="5.2"/>
<rect x="149.64" y="420.08" width="5.2" height="5.2"/>
<rect x="154.91" y="417.45" width="5.2" height="5.2"/>
<rect x="160.18" y="438.66" width="5.2" height="5.2"/>
<rect x="165.45" y="441.69" width="5.2" height="5.2"/>
<rect x="170.72" y="418.86" width="5.2" height="5.2"/>
<rect x="175.98" y="422.91" width="5.2" height="5.2"/>
<rect x="181.25" y="439.47" width="5.2" height="5.2"/>
<rect x="186.52" y="434.02" width="5.2" height="5.2"/>
<rect x="191.79" y="433.01" width="5.2" height="5.2"/>
<rect x="197.06" y="439.67" width="5.2" height="5.2"/>
<rect x="202.32" y="439.67" width="5.2" height="5.2"/>
<rect x="207.59" y="422.50" width="5.2" height="5.2"/>
<rect x="212.86" y="433.41" width="5.2" height="5.2"/>
</g>
<rect x="26.15" y="367.0" width="194.55" height="153.40" fill="none" stroke="#222" stroke-width="1.1"/>
<path d="M31.28 520.40v-3M57.62 520.40v-3M83.96 520.40v-3M110.30 520.40v-3M136.64 520.40v-3M162.98 520.40v-3M189.32 520.40v-3M215.66 520.40v-3M44.45 520.40v-1.8M70.79 520.40v-1.8M97.13 520.40v-1.8M123.47 520.40v-1.8M149.81 520.40v-1.8M176.15 520.40v-1.8M202.49 520.40v-1.8M26.15 520.40h3M26.15 496.78h3M26.15 473.16h3M26.15 449.54h3M26.15 425.92h3M26.15 402.30h3M26.15 378.68h3M26.15 508.59h1.8M26.15 484.97h1.8M26.15 461.35h1.8M26.15 437.73h1.8M26.15 414.11h1.8M26.15 390.49h1.8" stroke="#222" stroke-width="1" fill="none"/>
<g font-size="9" fill="#111" text-anchor="middle">
<text transform="translate(31.28,531.10) scale(1,1.06)">0</text>
<text transform="translate(57.62,531.10) scale(1,1.06)">5</text>
<text transform="translate(83.96,531.10) scale(1,1.06)">10</text>
<text transform="translate(110.30,531.10) scale(1,1.06)">15</text>
<text transform="translate(136.64,531.10) scale(1,1.06)">20</text>
<text transform="translate(162.98,531.10) scale(1,1.06)">25</text>
<text transform="translate(189.32,531.10) scale(1,1.06)">30</text>
<text transform="translate(215.66,531.10) scale(1,1.06)">35</text>
</g>
<g font-size="9" fill="#111" text-anchor="end">
<text transform="translate(22.75,523.00) scale(1,1.06)">20</text>
<text transform="translate(22.75,499.38) scale(1,1.06)">30</text>
<text transform="translate(22.75,475.76) scale(1,1.06)">40</text>
<text transform="translate(22.75,452.14) scale(1,1.06)">50</text>
<text transform="translate(22.75,428.52) scale(1,1.06)">60</text>
<text transform="translate(22.75,404.90) scale(1,1.06)">70</text>
<text transform="translate(22.75,381.28) scale(1,1.06)">80</text>
</g>
<text transform="translate(123.42,542.30) scale(1,0.9)" font-size="10" text-anchor="middle" fill="#111">No. of alloys</text>
<text transform="translate(7.35,443.70) rotate(-90)" font-size="10" text-anchor="middle" fill="#111">C<tspan font-size="5.6" dx="0.1" dy="-0.5">γ</tspan><tspan font-size="6" dx="0.2">′</tspan><tspan dy="0.5"> (%)</tspan></text>
<g fill="#319696"><rect x="184.65" y="376.20" width="5.2" height="5.2"/></g>
<text x="198.85" y="382.20" font-size="10" fill="#111">C<tspan font-size="5.6" dx="0.1" dy="-0.5">γ</tspan><tspan font-size="6" dx="0.2">′</tspan></text>
<text x="213.80" y="510.50" font-size="11.3" text-anchor="end" fill="#111">Iteration 1</text>
<polygon points="268.17,373.64 273.44,375.66 278.70,376.46 283.97,372.63 289.24,376.06 294.51,374.44 299.78,374.04 305.04,379.09 310.31,377.68 315.58,381.11 320.85,381.11 326.12,377.68 331.38,380.51 336.65,379.09 341.92,385.15 347.19,383.54 352.46,386.16 357.72,376.06 362.99,381.11 368.26,387.17 373.53,381.11 378.80,378.48 384.06,387.58 389.33,383.54 394.60,383.13 399.87,378.69 405.14,380.10 410.40,382.73 415.67,385.76 420.94,385.76 426.21,381.11 431.48,386.77 436.74,387.17 442.01,384.14 447.28,384.75 447.28,431.01 442.01,432.63 436.74,436.67 431.48,435.25 426.21,415.45 420.94,441.31 415.67,441.31 410.40,428.59 405.14,415.45 399.87,416.87 394.60,418.48 389.33,415.45 384.06,439.70 378.80,420.51 373.53,416.46 368.26,447.78 362.99,422.53 357.72,420.51 352.46,446.77 347.19,442.73 341.92,444.75 336.65,421.52 331.38,442.32 326.12,431.21 320.85,434.04 315.58,434.04 310.31,429.80 305.04,431.62 299.78,428.59 294.51,425.15 289.24,427.58 283.97,426.57 278.70,429.60 273.44,428.59 268.17,426.57" fill="#fec7e3"/>
<polyline points="268.17,373.64 273.44,375.66 278.70,376.46 283.97,372.63 289.24,376.06 294.51,374.44 299.78,374.04 305.04,379.09 310.31,377.68 315.58,381.11 320.85,381.11 326.12,377.68 331.38,380.51 336.65,379.09 341.92,385.15 347.19,383.54 352.46,386.16 357.72,376.06 362.99,381.11 368.26,387.17 373.53,381.11 378.80,378.48 384.06,387.58 389.33,383.54 394.60,383.13 399.87,378.69 405.14,380.10 410.40,382.73 415.67,385.76 420.94,385.76 426.21,381.11 431.48,386.77 436.74,387.17 442.01,384.14 447.28,384.75" fill="none" stroke="#ff6eb4" stroke-width="1.15"/>
<polyline points="268.17,426.57 273.44,428.59 278.70,429.60 283.97,426.57 289.24,427.58 294.51,425.15 299.78,428.59 305.04,431.62 310.31,429.80 315.58,434.04 320.85,434.04 326.12,431.21 331.38,442.32 336.65,421.52 341.92,444.75 347.19,442.73 352.46,446.77 357.72,420.51 362.99,422.53 368.26,447.78 373.53,416.46 378.80,420.51 384.06,439.70 389.33,415.45 394.60,418.48 399.87,416.87 405.14,415.45 410.40,428.59 415.67,441.31 420.94,441.31 426.21,415.45 431.48,435.25 436.74,436.67 442.01,432.63 447.28,431.01" fill="none" stroke="#ff6eb4" stroke-width="1.15"/>
<g fill="#319696">
<rect x="265.57" y="397.70" width="5.2" height="5.2"/>
<rect x="270.84" y="399.32" width="5.2" height="5.2"/>
<rect x="276.10" y="400.13" width="5.2" height="5.2"/>
<rect x="281.37" y="396.69" width="5.2" height="5.2"/>
<rect x="286.64" y="398.71" width="5.2" height="5.2"/>
<rect x="291.91" y="396.89" width="5.2" height="5.2"/>
<rect x="297.18" y="398.71" width="5.2" height="5.2"/>
<rect x="302.44" y="402.75" width="5.2" height="5.2"/>
<rect x="307.71" y="400.73" width="5.2" height="5.2"/>
<rect x="312.98" y="404.77" width="5.2" height="5.2"/>
<rect x="318.25" y="404.77" width="5.2" height="5.2"/>
<rect x="323.52" y="401.34" width="5.2" height="5.2"/>
<rect x="328.78" y="409.02" width="5.2" height="5.2"/>
<rect x="334.05" y="397.70" width="5.2" height="5.2"/>
<rect x="339.32" y="412.45" width="5.2" height="5.2"/>
<rect x="344.59" y="409.42" width="5.2" height="5.2"/>
<rect x="349.86" y="413.86" width="5.2" height="5.2"/>
<rect x="355.12" y="395.68" width="5.2" height="5.2"/>
<rect x="360.39" y="400.33" width="5.2" height="5.2"/>
<rect x="365.66" y="415.08" width="5.2" height="5.2"/>
<rect x="370.93" y="395.68" width="5.2" height="5.2"/>
<rect x="376.20" y="396.89" width="5.2" height="5.2"/>
<rect x="381.46" y="410.63" width="5.2" height="5.2"/>
<rect x="386.73" y="396.09" width="5.2" height="5.2"/>
<rect x="392.00" y="398.71" width="5.2" height="5.2"/>
<rect x="397.27" y="394.87" width="5.2" height="5.2"/>
<rect x="402.54" y="394.87" width="5.2" height="5.2"/>
<rect x="407.80" y="402.75" width="5.2" height="5.2"/>
<rect x="413.07" y="410.83" width="5.2" height="5.2"/>
<rect x="418.34" y="410.83" width="5.2" height="5.2"/>
<rect x="423.61" y="395.08" width="5.2" height="5.2"/>
<rect x="428.88" y="408.81" width="5.2" height="5.2"/>
<rect x="434.14" y="409.62" width="5.2" height="5.2"/>
<rect x="439.41" y="405.58" width="5.2" height="5.2"/>
<rect x="444.68" y="405.58" width="5.2" height="5.2"/>
</g>
<rect x="257.8" y="367.0" width="194.70" height="153.40" fill="none" stroke="#222" stroke-width="1.1"/>
<path d="M263.10 520.40v-3M289.44 520.40v-3M315.78 520.40v-3M342.12 520.40v-3M368.46 520.40v-3M394.80 520.40v-3M421.14 520.40v-3M447.48 520.40v-3M276.27 520.40v-1.8M302.61 520.40v-1.8M328.95 520.40v-1.8M355.29 520.40v-1.8M381.63 520.40v-1.8M407.97 520.40v-1.8M434.31 520.40v-1.8M257.80 520.40h3M257.80 496.78h3M257.80 473.16h3M257.80 449.54h3M257.80 425.92h3M257.80 402.30h3M257.80 378.68h3M257.80 508.59h1.8M257.80 484.97h1.8M257.80 461.35h1.8M257.80 437.73h1.8M257.80 414.11h1.8M257.80 390.49h1.8" stroke="#222" stroke-width="1" fill="none"/>
<g font-size="9" fill="#111" text-anchor="middle">
<text transform="translate(263.10,531.10) scale(1,1.06)">0</text>
<text transform="translate(289.44,531.10) scale(1,1.06)">5</text>
<text transform="translate(315.78,531.10) scale(1,1.06)">10</text>
<text transform="translate(342.12,531.10) scale(1,1.06)">15</text>
<text transform="translate(368.46,531.10) scale(1,1.06)">20</text>
<text transform="translate(394.80,531.10) scale(1,1.06)">25</text>
<text transform="translate(421.14,531.10) scale(1,1.06)">30</text>
<text transform="translate(447.48,531.10) scale(1,1.06)">35</text>
</g>
<g font-size="9" fill="#111" text-anchor="end">
<text transform="translate(254.40,523.00) scale(1,1.06)">20</text>
<text transform="translate(254.40,499.38) scale(1,1.06)">30</text>
<text transform="translate(254.40,475.76) scale(1,1.06)">40</text>
<text transform="translate(254.40,452.14) scale(1,1.06)">50</text>
<text transform="translate(254.40,428.52) scale(1,1.06)">60</text>
<text transform="translate(254.40,404.90) scale(1,1.06)">70</text>
<text transform="translate(254.40,381.28) scale(1,1.06)">80</text>
</g>
<text transform="translate(355.15,542.30) scale(1,0.9)" font-size="10" text-anchor="middle" fill="#111">No. of alloys</text>
<text transform="translate(239.00,443.70) rotate(-90)" font-size="10" text-anchor="middle" fill="#111">C<tspan font-size="5.6" dx="0.1" dy="-0.5">γ</tspan><tspan font-size="6" dx="0.2">′</tspan><tspan dy="0.5"> (%)</tspan></text>
<g fill="#319696"><rect x="416.30" y="376.20" width="5.2" height="5.2"/></g>
<text x="430.50" y="382.20" font-size="10" fill="#111">C<tspan font-size="5.6" dx="0.1" dy="-0.5">γ</tspan><tspan font-size="6" dx="0.2">′</tspan></text>
<text x="445.60" y="510.50" font-size="11.3" text-anchor="end" fill="#111">Iteration 2</text>
<polygon points="500.07,383.74 505.34,388.18 510.60,389.60 515.87,385.15 521.14,391.82 526.41,385.56 531.68,388.79 536.94,387.17 542.21,388.18 547.48,389.19 552.75,390.20 558.02,390.20 563.28,390.20 568.55,389.60 573.82,393.84 579.09,392.22 584.36,390.20 589.62,392.22 594.89,389.60 600.16,390.81 605.43,391.21 610.70,393.64 615.96,390.20 621.23,392.63 626.50,393.64 631.77,393.64 637.04,393.84 642.30,394.24 647.57,392.22 652.84,395.25 658.11,396.87 663.38,394.24 668.64,394.24 673.91,394.65 679.18,397.68 679.18,445.76 673.91,433.03 668.64,435.66 663.38,420.51 658.11,434.04 652.84,436.26 647.57,435.66 642.30,434.04 637.04,441.72 631.77,444.14 626.50,437.68 621.23,434.65 615.96,423.13 610.70,439.09 605.43,424.95 600.16,433.23 594.89,430.61 589.62,422.93 584.36,433.64 579.09,422.93 573.82,433.64 568.55,420.10 563.28,427.58 558.02,434.65 552.75,431.21 547.48,434.24 542.21,432.63 536.94,425.56 531.68,440.71 526.41,431.21 521.14,428.59 515.87,434.24 510.60,422.93 505.34,426.57 500.07,431.21" fill="#fec7e3"/>
<polyline points="500.07,383.74 505.34,388.18 510.60,389.60 515.87,385.15 521.14,391.82 526.41,385.56 531.68,388.79 536.94,387.17 542.21,388.18 547.48,389.19 552.75,390.20 558.02,390.20 563.28,390.20 568.55,389.60 573.82,393.84 579.09,392.22 584.36,390.20 589.62,392.22 594.89,389.60 600.16,390.81 605.43,391.21 610.70,393.64 615.96,390.20 621.23,392.63 626.50,393.64 631.77,393.64 637.04,393.84 642.30,394.24 647.57,392.22 652.84,395.25 658.11,396.87 663.38,394.24 668.64,394.24 673.91,394.65 679.18,397.68" fill="none" stroke="#ff6eb4" stroke-width="1.15"/>
<polyline points="500.07,431.21 505.34,426.57 510.60,422.93 515.87,434.24 521.14,428.59 526.41,431.21 531.68,440.71 536.94,425.56 542.21,432.63 547.48,434.24 552.75,431.21 558.02,434.65 563.28,427.58 568.55,420.10 573.82,433.64 579.09,422.93 584.36,433.64 589.62,422.93 594.89,430.61 600.16,433.23 605.43,424.95 610.70,439.09 615.96,423.13 621.23,434.65 626.50,437.68 631.77,444.14 637.04,441.72 642.30,434.04 647.57,435.66 652.84,436.26 658.11,434.04 663.38,420.51 668.64,435.66 673.91,433.03 679.18,445.76" fill="none" stroke="#ff6eb4" stroke-width="1.15"/>
<g fill="#319696">
<rect x="497.47" y="404.77" width="5.2" height="5.2"/>
<rect x="502.74" y="404.77" width="5.2" height="5.2"/>
<rect x="508.00" y="403.36" width="5.2" height="5.2"/>
<rect x="513.27" y="406.79" width="5.2" height="5.2"/>
<rect x="518.54" y="407.80" width="5.2" height="5.2"/>
<rect x="523.81" y="405.78" width="5.2" height="5.2"/>
<rect x="529.08" y="412.25" width="5.2" height="5.2"/>
<rect x="534.34" y="403.76" width="5.2" height="5.2"/>
<rect x="539.61" y="407.80" width="5.2" height="5.2"/>
<rect x="544.88" y="408.81" width="5.2" height="5.2"/>
<rect x="550.15" y="407.80" width="5.2" height="5.2"/>
<rect x="555.42" y="409.82" width="5.2" height="5.2"/>
<rect x="560.68" y="405.18" width="5.2" height="5.2"/>
<rect x="565.95" y="401.74" width="5.2" height="5.2"/>
<rect x="571.22" y="411.44" width="5.2" height="5.2"/>
<rect x="576.49" y="404.37" width="5.2" height="5.2"/>
<rect x="581.76" y="409.42" width="5.2" height="5.2"/>
<rect x="587.02" y="404.77" width="5.2" height="5.2"/>
<rect x="592.29" y="407.80" width="5.2" height="5.2"/>
<rect x="597.56" y="409.82" width="5.2" height="5.2"/>
<rect x="602.83" y="405.38" width="5.2" height="5.2"/>
<rect x="608.10" y="413.86" width="5.2" height="5.2"/>
<rect x="613.36" y="403.76" width="5.2" height="5.2"/>
<rect x="618.63" y="410.83" width="5.2" height="5.2"/>
<rect x="623.90" y="413.06" width="5.2" height="5.2"/>
<rect x="629.17" y="416.29" width="5.2" height="5.2"/>
<rect x="634.44" y="415.08" width="5.2" height="5.2"/>
<rect x="639.70" y="411.24" width="5.2" height="5.2"/>
<rect x="644.97" y="411.44" width="5.2" height="5.2"/>
<rect x="650.24" y="413.26" width="5.2" height="5.2"/>
<rect x="655.51" y="413.06" width="5.2" height="5.2"/>
<rect x="660.78" y="404.77" width="5.2" height="5.2"/>
<rect x="666.04" y="412.85" width="5.2" height="5.2"/>
<rect x="671.31" y="411.44" width="5.2" height="5.2"/>
<rect x="676.58" y="418.92" width="5.2" height="5.2"/>
</g>
<rect x="489.7" y="367.0" width="194.70" height="153.40" fill="none" stroke="#222" stroke-width="1.1"/>
<path d="M495.00 520.40v-3M521.34 520.40v-3M547.68 520.40v-3M574.02 520.40v-3M600.36 520.40v-3M626.70 520.40v-3M653.04 520.40v-3M679.38 520.40v-3M508.17 520.40v-1.8M534.51 520.40v-1.8M560.85 520.40v-1.8M587.19 520.40v-1.8M613.53 520.40v-1.8M639.87 520.40v-1.8M666.21 520.40v-1.8M489.70 520.40h3M489.70 496.78h3M489.70 473.16h3M489.70 449.54h3M489.70 425.92h3M489.70 402.30h3M489.70 378.68h3M489.70 508.59h1.8M489.70 484.97h1.8M489.70 461.35h1.8M489.70 437.73h1.8M489.70 414.11h1.8M489.70 390.49h1.8" stroke="#222" stroke-width="1" fill="none"/>
<g font-size="9" fill="#111" text-anchor="middle">
<text transform="translate(495.00,531.10) scale(1,1.06)">0</text>
<text transform="translate(521.34,531.10) scale(1,1.06)">5</text>
<text transform="translate(547.68,531.10) scale(1,1.06)">10</text>
<text transform="translate(574.02,531.10) scale(1,1.06)">15</text>
<text transform="translate(600.36,531.10) scale(1,1.06)">20</text>
<text transform="translate(626.70,531.10) scale(1,1.06)">25</text>
<text transform="translate(653.04,531.10) scale(1,1.06)">30</text>
<text transform="translate(679.38,531.10) scale(1,1.06)">35</text>
</g>
<g font-size="9" fill="#111" text-anchor="end">
<text transform="translate(486.30,523.00) scale(1,1.06)">20</text>
<text transform="translate(486.30,499.38) scale(1,1.06)">30</text>
<text transform="translate(486.30,475.76) scale(1,1.06)">40</text>
<text transform="translate(486.30,452.14) scale(1,1.06)">50</text>
<text transform="translate(486.30,428.52) scale(1,1.06)">60</text>
<text transform="translate(486.30,404.90) scale(1,1.06)">70</text>
<text transform="translate(486.30,381.28) scale(1,1.06)">80</text>
</g>
<text transform="translate(587.05,542.30) scale(1,0.9)" font-size="10" text-anchor="middle" fill="#111">No. of alloys</text>
<text transform="translate(470.90,443.70) rotate(-90)" font-size="10" text-anchor="middle" fill="#111">C<tspan font-size="5.6" dx="0.1" dy="-0.5">γ</tspan><tspan font-size="6" dx="0.2">′</tspan><tspan dy="0.5"> (%)</tspan></text>
<g fill="#319696"><rect x="648.20" y="376.20" width="5.2" height="5.2"/></g>
<text x="662.40" y="382.20" font-size="10" fill="#111">C<tspan font-size="5.6" dx="0.1" dy="-0.5">γ</tspan><tspan font-size="6" dx="0.2">′</tspan></text>
<text x="677.50" y="510.50" font-size="11.3" text-anchor="end" fill="#111">Iteration 3</text>
</svg>
</body></html>
